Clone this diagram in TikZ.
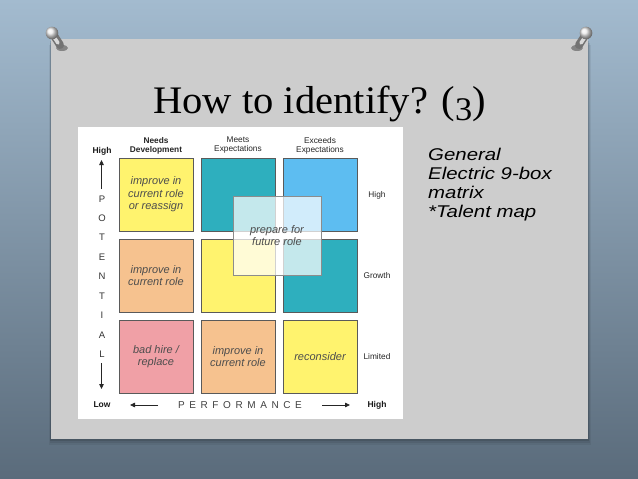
\documentclass[tikz,border=0pt]{standalone}
\usepackage{fontspec}
\newfontfamily\arial{Liberation Sans}
\newfontfamily\arialwide[FakeStretch=1.2]{Liberation Sans}
\newfontfamily\titlefont[FakeStretch=1.04]{Liberation Serif}
\usetikzlibrary{arrows.meta}
\definecolor{bgtop}{HTML}{A3BBCF}
\definecolor{bgmid}{HTML}{8199AE}
\definecolor{bgbot}{HTML}{5A6B7B}
\definecolor{cardgray}{HTML}{CDCDCD}
\definecolor{cyellow}{HTML}{FFF36E}
\definecolor{cteal}{HTML}{2EAFBE}
\definecolor{cblue}{HTML}{5DBDF1}
\definecolor{corange}{HTML}{F6C28F}
\definecolor{cpink}{HTML}{F0A0A6}
\definecolor{cedge}{HTML}{5A5A5A}
\definecolor{txtgray}{HTML}{4D4D4D}
\newcommand\perfgap{\kern4.6pt}
\begin{document}
\begin{tikzpicture}[x=1pt,y=-1pt,
  cell/.style={draw=cedge, line width=0.9pt, minimum width=74pt, minimum height=73pt,
    inner sep=0pt, align=center, text=txtgray,
    font=\arial\itshape\fontsize{11}{12.5}\selectfont},
  hdr/.style={align=center, inner sep=0pt, text=black!85,
    font=\arial\fontsize{8.3}{9}\selectfont},
  lbl/.style={inner sep=0pt, text=black!85, font=\arial\fontsize{8.3}{9}\selectfont},
  blbl/.style={inner sep=0pt, text=black!90, font=\arial\bfseries\fontsize{8.5}{9}\selectfont},
  vletter/.style={inner sep=0pt, text=black!80, font=\arial\fontsize{9.5}{10}\selectfont},
  axarrow/.style={-{Triangle[length=5pt,width=4.5pt]}, line width=0.8pt, black!85},
  pinbody/.style={line width=8pt, line cap=round, draw=black!55},
  pinlight/.style={line width=3.5pt, line cap=round, draw=white!85!black}]
\useasboundingbox (0,0) rectangle (638,479);
% background
\shade[top color=bgtop, middle color=bgmid, bottom color=bgbot] (0,0) rectangle (638,479);
% card shadow
\foreach \d/\o in {6/0.06,4/0.08,2/0.12}{
  \fill[black, opacity=\o] (51-\d*0.3,39+\d) rectangle (588+\d*0.5,439+\d);
}
% card
\fill[cardgray] (51,39) rectangle (588,439);
% pins
\fill[black, opacity=0.35] (62,48) ellipse (6 and 3);
\draw[pinbody] (53,34) -- (60,45);
\draw[pinlight] (52,34) -- (58,43);
\shade[ball color=white!92!black] (52,33) circle (6.3);
\fill[black, opacity=0.35] (577,48) ellipse (6 and 3);
\draw[pinbody] (586,34) -- (579,45);
\draw[pinlight] (587,34) -- (581,43);
\shade[ball color=white!92!black] (586,33) circle (6.3);
% title
\node[anchor=base west, inner sep=0pt, font=\titlefont\fontsize{39}{42}\selectfont] (title) at (153,113)
  {How to identify? (\raisebox{-0.2em}{\fontsize{33}{33}\selectfont 3})};
% white panel
\fill[white] (78,127) rectangle (403,419);
% cells
\node[cell, fill=cyellow] (c11) at (156,194.5) {improve in\\current role\\or reassign};
\node[cell, fill=cteal]   (c12) at (238,194.5) {};
\node[cell, fill=cblue]   (c13) at (320,194.5) {};
\node[cell, fill=corange] (c21) at (156,275.5) {improve in\\current role};
\node[cell, fill=cyellow] (c22) at (238,275.5) {};
\node[cell, fill=cteal]   (c23) at (320,275.5) {};
\node[cell, fill=cpink]   (c31) at (156,356.5) {bad hire /\\replace};
\node[cell, fill=corange] (c32) at (238,356.5) {improve in\\current role};
\node[cell, fill=cyellow] (c33) at (320,356.5) {reconsider};
% overlay
\node[draw=black!45, line width=0.8pt, fill=white, fill opacity=0.72, text opacity=1,
  minimum width=88pt, minimum height=79pt, inner sep=0pt, align=center, text=txtgray,
  font=\arial\itshape\fontsize{11}{12.5}\selectfont] (prep) at (277,235.5) {prepare for\\future role};
% column headers
\node[hdr, font=\arial\bfseries\fontsize{8.3}{9}\selectfont] (h1) at (156,145.5) {Needs\\Development};
\node[hdr] (h2) at (238,145.5) {Meets\\Expectations};
\node[hdr] (h3) at (320,145.5) {Exceeds\\Expectations};
% row labels
\node[lbl] (rHigh) at (377,195) {High};
\node[lbl] (rGrowth) at (377,276) {Growth};
\node[lbl] (rLimited) at (377,357) {Limited};
% potential axis
\node[blbl] (potHigh) at (102,151) {High};
\node[vletter] (vP) at (102,199) {P};
\node[vletter] (vO) at (102,218) {O};
\node[vletter] (vT) at (102,237.5) {T};
\node[vletter] (vE) at (102,257) {E};
\node[vletter] (vN) at (102,276.5) {N};
\node[vletter] (vT2) at (102,296) {T};
\node[vletter] (vI) at (102,315.5) {I};
\node[vletter] (vA) at (102,335) {A};
\node[vletter] (vL) at (102,354) {L};
\coordinate (upS) at (101.5,189);
\coordinate (upE) at (101.5,160);
\draw[axarrow] (upS) -- (upE);
\coordinate (dnS) at (101.5,363);
\coordinate (dnE) at (101.5,389);
\draw[axarrow] (dnS) -- (dnE);
% performance axis
\node[blbl] (perfLow) at (102,405) {Low};
\node[blbl] (perfHigh) at (377,405) {High};
\node[inner sep=0pt, text=black!75, font=\arial\fontsize{10}{10}\selectfont] (perf) at (240,405)
  {P\perfgap E\perfgap R\perfgap F\perfgap O\perfgap R\perfgap M\perfgap A\perfgap N\perfgap C\perfgap E};
\coordinate (lfS) at (158,405);
\coordinate (lfE) at (130,405);
\draw[axarrow] (lfS) -- (lfE);
\coordinate (rtS) at (322,405);
\coordinate (rtE) at (350,405);
\draw[axarrow] (rtS) -- (rtE);
% side text
\node[anchor=base west, inner sep=0pt, align=left,
  font=\arialwide\itshape\fontsize{17}{18.7}\selectfont] (side) at (428,217)
  {General\\Electric 9-box\\matrix\\*Talent map};
\end{tikzpicture}
\end{document}
